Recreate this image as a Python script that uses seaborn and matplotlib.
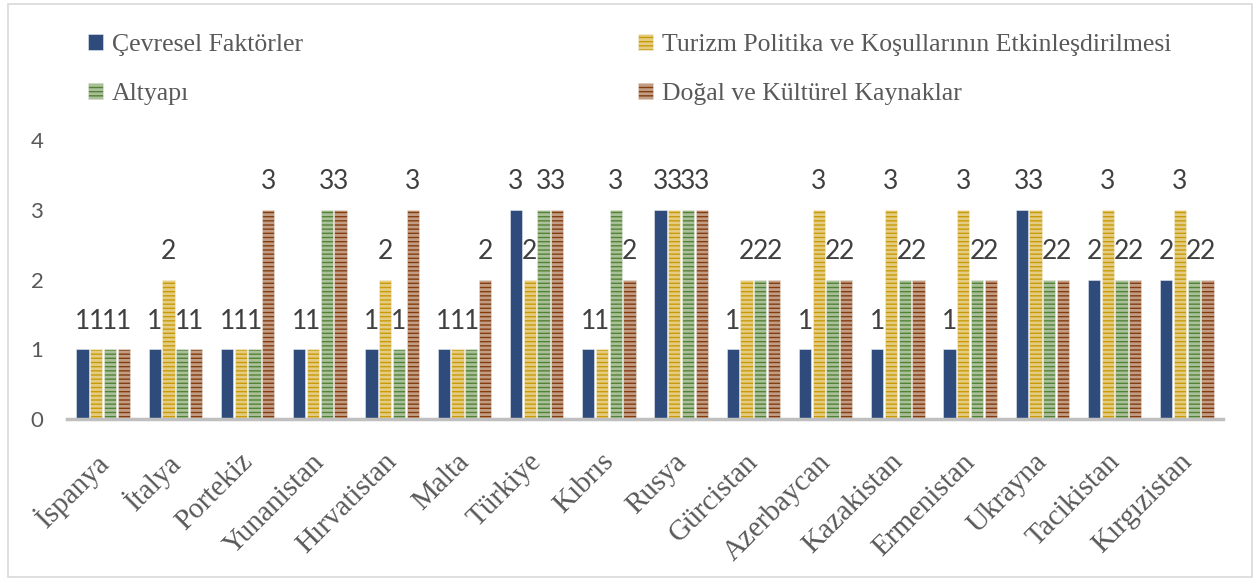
import matplotlib
matplotlib.use("Agg")
import matplotlib.pyplot as plt
import matplotlib.transforms as mtransforms
from matplotlib.patches import Rectangle
import pandas as pd
import seaborn as sns

countries = [
    "İspanya", "İtalya", "Portekiz", "Yunanistan", "Hırvatistan", "Malta",
    "Türkiye", "Kıbrıs", "Rusya", "Gürcistan", "Azerbaycan", "Kazakistan",
    "Ermenistan", "Ukrayna", "Tacikistan", "Kırgızistan",
]
series_names = [
    "Çevresel Faktörler",
    "Turizm Politika ve Koşullarının Etkinleşdirilmesi",
    "Altyapı",
    "Doğal ve Kültürel Kaynaklar",
]
cevresel = [1, 1, 1, 1, 1, 1, 3, 1, 3, 1, 1, 1, 1, 3, 2, 2]
turizm   = [1, 2, 1, 1, 2, 1, 2, 1, 3, 2, 3, 3, 3, 3, 3, 3]
altyapi  = [1, 1, 1, 3, 1, 1, 3, 3, 3, 2, 2, 2, 2, 2, 2, 2]
dogal    = [1, 1, 3, 3, 3, 2, 3, 2, 3, 2, 2, 2, 2, 2, 2, 2]
y_ticks = [0, 1, 2, 3, 4]

colors = ["#2f4b7c", "#c99a06", "#548235", "#843c0c"]
hatches = [None, "----", "----", "----"]
TEXT = "#595959"

df = pd.DataFrame({
    "country": countries * 4,
    "series": [s for s in series_names for _ in countries],
    "value": cevresel + turizm + altyapi + dogal,
})

sns.set_style("white")
plt.rcParams["hatch.linewidth"] = 2.0

W, H = 1258, 580
fig = plt.figure(figsize=(W / 100, H / 100), dpi=100)
ax = fig.add_axes([67 / W, 1 - 419 / H, (1223 - 67) / W, (419 - 140) / H])

sns.barplot(
    df, x="country", y="value", hue="series", palette=colors,
    width=0.76, gap=0.12, saturation=1, legend=False, ax=ax,
)

for cont, hatch in zip(ax.containers, hatches):
    for bar in cont:
        bar.set_edgecolor((1, 1, 1, 0.5))
        bar.set_linewidth(0.6)
        if hatch:
            bar.set_hatch(hatch)
    ax.bar_label(cont, fmt="%d", padding=11, fontsize=19, color="#404040",
                 family="Lato")

ax.set_ylim(0, 4)
ax.set_yticks(y_ticks)
ax.set_xlabel(None)
ax.set_ylabel(None)
for side in ["top", "right", "left"]:
    ax.spines[side].set_visible(False)
ax.spines["bottom"].set_color("#bfbfbf")
ax.spines["bottom"].set_linewidth(2.5)

ax.tick_params(axis="y", length=0, pad=17, labelsize=16, labelcolor=TEXT)
ax.tick_params(axis="x", length=0, pad=28)
for lbl in ax.get_yticklabels():
    lbl.set_family("Lato")

shift = mtransforms.ScaledTranslation(1 / 100, 0, fig.dpi_scale_trans)
for lbl in ax.get_xticklabels():
    lbl.set_rotation(45)
    lbl.set_ha("right")
    lbl.set_va("center")
    lbl.set_rotation_mode("anchor")
    lbl.set_family("Liberation Serif")
    lbl.set_fontsize(21)
    lbl.set_color(TEXT)
    lbl.set_transform(lbl.get_transform() + shift)

legend_kw = dict(
    frameon=False, loc="upper left", borderpad=0, borderaxespad=0,
    handlelength=0.58, handleheight=0.58, handletextpad=0.35,
    labelspacing=1.05, labelcolor=TEXT,
    prop={"family": "Liberation Serif", "size": 18.5},
)
c = ax.containers
leg1 = fig.legend([c[0], c[2]], [series_names[0], series_names[2]],
                  bbox_to_anchor=(88 / W, 1 - 34 / H), **legend_kw)
leg2 = fig.legend([c[1], c[3]], [series_names[1], series_names[3]],
                  bbox_to_anchor=(638 / W, 1 - 34 / H), **legend_kw)

fig.patches.append(Rectangle(
    (8 / W, 3 / H), (1252 - 8) / W, (577 - 4) / H,
    transform=fig.transFigure, fill=False, edgecolor="#d9d9d9", linewidth=1.2,
))

fig.savefig("out.png", dpi=100)
